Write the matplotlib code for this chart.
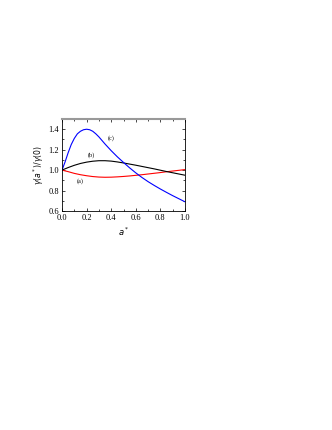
import matplotlib
matplotlib.use("Agg")
import matplotlib.pyplot as plt
from matplotlib.ticker import MultipleLocator

x = [0.0, 0.05, 0.1, 0.15, 0.2, 0.25, 0.3, 0.35, 0.4, 0.45, 0.5,
     0.55, 0.6, 0.65, 0.7, 0.75, 0.8, 0.85, 0.9, 0.95, 1.0]
curve_a = [1.0, 0.985, 0.968, 0.955, 0.945, 0.937, 0.932, 0.930, 0.931, 0.934, 0.938,
           0.943, 0.949, 0.955, 0.962, 0.969, 0.976, 0.984, 0.991, 0.998, 1.005]
curve_b = [1.0, 1.025, 1.047, 1.065, 1.078, 1.087, 1.092, 1.092, 1.088, 1.080, 1.070,
           1.059, 1.048, 1.036, 1.024, 1.012, 0.999, 0.986, 0.974, 0.962, 0.950]
x_c = [0.0, 0.025, 0.05, 0.075, 0.1, 0.125, 0.15, 0.175, 0.2, 0.225, 0.25, 0.275,
       0.3, 0.35, 0.4, 0.45, 0.5, 0.55, 0.6, 0.65, 0.7, 0.75, 0.8, 0.85, 0.9, 0.95, 1.0]
curve_c = [1.0, 1.08, 1.17, 1.25, 1.31, 1.355, 1.38, 1.395, 1.40, 1.395, 1.38, 1.355,
           1.325, 1.255, 1.19, 1.13, 1.075, 1.022, 0.973, 0.928, 0.887, 0.85, 0.815,
           0.782, 0.75, 0.72, 0.69]
labels = ["(a)", "(b)", "(c)"]
label_pos = [(0.15, 0.895), (0.235, 1.145), (0.40, 1.31)]

plt.rcParams['font.family'] = ['Liberation Serif', 'DejaVu Serif']

fig = plt.figure(figsize=(3.32, 4.30), dpi=100)
ax = fig.add_axes([62/332, 1 - 211/430, (185-62)/332, (211-119)/430])

ax.plot(x, curve_a, color='red', lw=0.8)
ax.plot(x, curve_b, color='black', lw=0.8)
ax.plot(x_c, curve_c, color='blue', lw=0.8)

for lab, (lx, ly) in zip(labels, label_pos):
    ax.text(lx, ly, lab, fontsize=4.5, ha='center', va='center')

ax.set_xlim(0, 1.0)
ax.set_ylim(0.6, 1.5)
ax.xaxis.set_major_locator(MultipleLocator(0.2))
ax.xaxis.set_minor_locator(MultipleLocator(0.1))
ax.yaxis.set_major_locator(MultipleLocator(0.2))
ax.yaxis.set_minor_locator(MultipleLocator(0.1))
ax.set_yticks([0.6, 0.8, 1.0, 1.2, 1.4])
ax.tick_params(which='both', direction='in', top=True, right=True,
               labelsize=6, width=0.5)
ax.tick_params(axis='x', pad=2.5)
ax.tick_params(axis='y', pad=2)
ax.tick_params(which='major', length=2.5)
ax.tick_params(which='minor', length=1.5)
for s in ax.spines.values():
    s.set_linewidth(0.6)
ax.spines['top'].set_color('#999999')
ax.spines['top'].set_linewidth(1.5)

ax.set_xlabel(r"$a^*$", fontsize=6, labelpad=2)
ax.set_ylabel(r"$\gamma(a^*)/\gamma(0)$", fontsize=5.5, labelpad=2)

fig.savefig("out.png", dpi=100)
